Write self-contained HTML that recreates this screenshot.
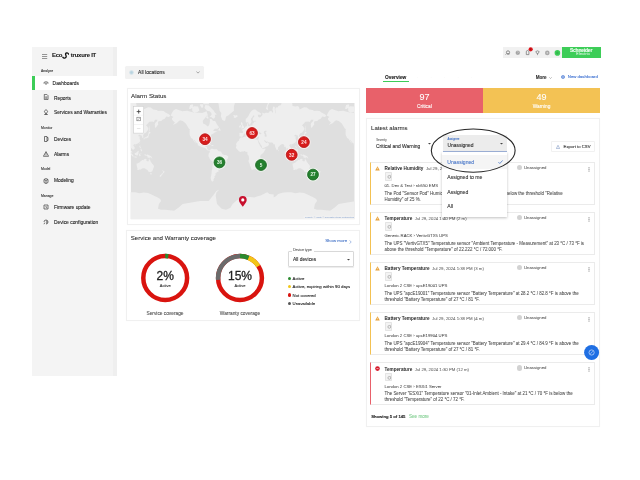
<!DOCTYPE html>
<html><head><meta charset="utf-8">
<style>
*{box-sizing:border-box;margin:0;padding:0}
html,body{width:640px;height:480px;overflow:hidden;background:#fff}
body{position:relative;font-family:"Liberation Sans",sans-serif;color:#333;will-change:transform}
.a{position:absolute}
.t{position:absolute;white-space:nowrap;line-height:1;-webkit-text-stroke:0.1px currentColor}
#sb{left:32px;top:47px;width:85px;height:329px;background:#f4f4f4}
#sbedge{left:113px;top:47px;width:4px;height:329px;background:#efefef}
.sl{font-size:3.45px;color:#3a3a3a;left:41px}
.si{font-size:4.9px;color:#1e1e1e;left:53.9px}
.ic{position:absolute;left:43px;width:6px;height:6px}
.card{position:absolute;background:#fff;border:0.6px solid #f0f0f0;box-shadow:0 0 0.8px rgba(0,0,0,0.06)}
.item{position:absolute;left:370px;width:225.3px;height:43px;border:0.6px solid #ebebeb;border-left:1.2px solid #f3c152;background:#fff}
.item.red{border-left-color:#e8606a}
.it{font-size:4.65px;font-weight:bold;color:#2a2a2a;-webkit-text-stroke:0;left:13.5px;top:4.4px}
.id{font-size:4.3px;color:#666;-webkit-text-stroke:0.05px #666}
.ib{position:absolute;left:13.6px;top:9.6px;width:7.5px;height:8.6px;background:#f3f3f3;border:0.5px solid #e4e4e4;border-radius:0.8px}
.il{font-size:4.25px;color:#444;-webkit-text-stroke:0.03px #444;left:13.5px;top:21.6px}
.ix{font-size:4.45px;color:#4a4a4a;-webkit-text-stroke:0.05px #4a4a4a;left:13.5px;top:27.8px;line-height:6.3px}
.ua{position:absolute;left:145.8px;top:2.2px;width:5.4px;height:5.4px;border-radius:50%;background:#d2d2d2}
.un{font-size:4.25px;color:#555;-webkit-text-stroke:0.04px #555;left:153px;top:3.2px}
.kb{position:absolute;left:216.8px;top:4px}
.warn{position:absolute;left:4.3px;top:3px}
.lg{font-size:4.3px;color:#222;left:292.6px;margin-top:0.6px}
.ld{position:absolute;left:287.6px;width:3.3px;height:3.3px;border-radius:50%;margin-top:0.1px}
.opt{font-size:5.1px;color:#333;left:447.3px}
</style></head><body>

<!-- sidebar -->
<div class="a" id="sb"></div>
<div class="a" id="sbedge"></div>
<svg class="a" style="left:42px;top:54px" width="6" height="5" viewBox="0 0 6 5"><rect x="0" y="0" width="5.2" height="0.9" fill="#8a8a8a"/><rect x="0" y="2" width="5.2" height="0.9" fill="#8a8a8a"/><rect x="0" y="4" width="5.2" height="0.9" fill="#8a8a8a"/></svg>
<div class="t" style="left:52px;top:52.7px;font-size:5.9px;font-weight:bold;color:#1a1a1a;letter-spacing:-0.2px">Eco<span style="display:inline-block;width:8.6px"></span>truxure IT</div>
<svg class="a" style="left:61.6px;top:52.3px" width="7.4" height="7.4" viewBox="0 0 7.4 7.4"><path d="M6.6 2.2C6.2 0.6 4 0.4 3.6 1.8C3.3 2.9 4.6 3.6 4.1 5C3.7 6.3 1.6 6.6 0.8 5.2" stroke="#111" stroke-width="1.3" fill="none" stroke-linecap="round"/></svg>
<div class="t sl" style="top:70.4px">Analyze</div>
<div class="a" style="left:32px;top:75.8px;width:85px;height:14.2px;background:#fff"></div>
<div class="a" style="left:32px;top:75.8px;width:2.5px;height:14.2px;background:#3dcd58"></div>
<svg class="ic" style="top:80px" viewBox="0 0 6 6"><path d="M0.5 3C2 1.5 4 1.5 5.5 3M1.5 3.3L3 4.2L4.5 3.3" stroke="#3a3a3a" stroke-width="0.8" fill="none"/></svg>
<div class="t si" style="left:52.6px;top:81.8px">Dashboards</div>
<svg class="ic" style="top:94.4px" viewBox="0 0 6 6"><path d="M1.3 0.4H3.8L5 1.6V5.6H1.3Z M2.2 3H4.1M2.2 4.2H4.1" stroke="#4a4a4a" stroke-width="0.75" fill="none"/></svg>
<div class="t si" style="top:96.5px">Reports</div>
<svg class="ic" style="top:109px" viewBox="0 0 6 6"><path d="M3 0.5L4.6 2.3L3 5.5L1.4 2.3Z M1.2 5.5H4.8" stroke="#4a4a4a" stroke-width="0.75" fill="none"/></svg>
<div class="t si" style="top:110.9px">Services and Warranties</div>
<div class="t sl" style="top:126.7px">Monitor</div>
<svg class="ic" style="top:136.3px" viewBox="0 0 6 6"><path d="M1.5 0.5H4V5.5H1.5Z M4 1.5H5V4.5H4" stroke="#4a4a4a" stroke-width="0.75" fill="none"/></svg>
<div class="t si" style="top:138.2px">Devices</div>
<svg class="ic" style="top:151px" viewBox="0 0 6 6"><path d="M3 0.6L5.6 5.3H0.4Z M3 2.2V3.8M3 4.3V4.8" stroke="#4a4a4a" stroke-width="0.75" fill="none"/></svg>
<div class="t si" style="top:152.9px">Alarms</div>
<div class="t sl" style="top:167.9px">Model</div>
<svg class="ic" style="top:177.5px" viewBox="0 0 6 6"><path d="M1 1.5L3 0.5L5 1.5V4.5L3 5.5L1 4.5Z M1 1.5L3 2.5L5 1.5M3 2.5V5.5" stroke="#4a4a4a" stroke-width="0.75" fill="none"/></svg>
<div class="t si" style="top:179.4px">Modeling</div>
<div class="t sl" style="top:194.8px">Manage</div>
<svg class="ic" style="top:204.4px" viewBox="0 0 6 6"><path d="M1 1H5V5H1Z M3 2V3.3L3.8 3.8" stroke="#4a4a4a" stroke-width="0.75" fill="none"/></svg>
<div class="t si" style="top:206.3px">Firmware update</div>
<svg class="ic" style="top:219.3px" viewBox="0 0 6 6"><path d="M1 3A2 2 0 1 1 3 5M1.8 3.6L1 5.2M3 1.8A1.2 1.2 0 1 1 3 4.2" stroke="#4a4a4a" stroke-width="0.75" fill="none"/></svg>
<div class="t si" style="top:221.2px">Device configuration</div>

<!-- top right header -->
<div class="a" style="left:502.5px;top:46.8px;width:60px;height:11.3px;background:#f1f1f1"></div>
<svg class="a" style="left:502.5px;top:46.8px" width="60" height="12" viewBox="0 0 60 12">
<circle cx="5" cy="5.4" r="1.6" stroke="#666" stroke-width="0.7" fill="none"/><path d="M3.6 6.6L2.6 7.6M4.2 7H6.6" stroke="#666" stroke-width="0.7"/>
<circle cx="14.8" cy="5.8" r="2.3" fill="#b9b9b9"/><circle cx="14.8" cy="5.8" r="1.6" fill="#9a9a9a"/><path d="M14.2 5.3Q14.8 4.3 15.4 5.2Q15.3 5.8 14.8 6.2V6.7" stroke="#eee" stroke-width="0.5" fill="none"/>
<path d="M23.3 7.6V4.8Q23.3 3.5 24.6 3.5Q25.9 3.5 25.9 4.8V7.6Z" stroke="#666" stroke-width="0.65" fill="none"/>
<circle cx="27.7" cy="2.3" r="2.1" fill="#e0141b"/><path d="M27.7 1.3V3.1" stroke="#5a0a0a" stroke-width="0.45"/>
<path d="M32.8 4.6Q34.5 3.1 36.2 4.6L35.1 6.6H33.9Z M34 7.6H35" stroke="#666" stroke-width="0.65" fill="none"/>
<circle cx="44.3" cy="5.9" r="2.3" fill="#a9a9a9"/><circle cx="44.3" cy="5.9" r="0.8" fill="#d5d5d5"/>
<circle cx="54.4" cy="5.9" r="2.8" fill="#3dcd58"/><circle cx="54.4" cy="5.9" r="1.3" fill="#34b54d"/>
</svg>
<div class="a" style="left:562px;top:46.5px;width:38.8px;height:11.6px;background:#3dcd58"></div>
<div class="t" style="left:569.9px;top:48.6px;font-size:4.9px;font-weight:bold;color:#f4fff6;letter-spacing:-0.15px">Schneider</div>
<div class="t" style="left:576.3px;top:53.2px;font-size:3.4px;color:#d6f3dd;letter-spacing:0.35px">Electric</div>

<!-- location selector -->
<div class="a" style="left:125.2px;top:65.6px;width:79.2px;height:13.2px;background:#f2f2f2;border-radius:1.5px"></div>
<svg class="a" style="left:128.6px;top:69.6px" width="5" height="5" viewBox="0 0 5 5"><circle cx="2.5" cy="2.5" r="2.2" fill="#cfe0e8"/><circle cx="2.5" cy="2.5" r="1.2" fill="#b8d3df"/></svg>
<div class="t" style="left:138.1px;top:70.2px;font-size:5px;color:#2a2a2a">All locations</div>
<svg class="a" style="left:196px;top:70.6px" width="4" height="3" viewBox="0 0 4 3"><path d="M0.4 0.6L2 2.1L3.6 0.6" stroke="#666" stroke-width="0.55" fill="none"/></svg>

<!-- alarm status card -->
<div class="card" style="left:126.5px;top:88px;width:233.5px;height:136.5px"></div>
<div class="t" style="left:131px;top:93.2px;font-size:6.2px;color:#262626;-webkit-text-stroke:0.06px #262626">Alarm Status</div>
<svg class="a" style="left:0;top:0" width="640" height="480" viewBox="0 0 640 480">
<defs><clipPath id="mc"><rect x="130.6" y="103" width="224.1" height="116.3"/></clipPath></defs>
<g clip-path="url(#mc)">
<rect x="130.6" y="103" width="224.1" height="116.3" fill="#dfdfdf"/>
<path d="M85.0 137.1L84.6 136.6L84.2 136.4L83.5 136.5L83.6 135.7L83.3 135.4L83.6 134.3L83.4 133.1L83.9 132.7L85.7 132.9L86.8 132.9L86.9 131.3L86.4 130.5L85.4 130.0L85.4 129.7L86.8 129.6L86.8 129.0L87.4 129.0L88.1 128.6L88.3 128.0L88.9 127.7L89.4 127.0L89.6 126.4L90.4 126.2L91.1 126.0L91.1 124.8L90.9 123.8L91.7 123.1L91.9 124.0L91.9 125.1L92.2 125.9L92.6 125.7L93.5 125.9L95.2 125.3L95.9 125.6L96.5 124.9L96.5 123.8L96.9 123.1L97.8 123.4L97.9 122.4L97.6 121.8L99.5 121.5L100.4 121.1L99.5 120.7L97.4 121.1L96.7 120.2L96.7 118.4L98.2 116.4L98.4 115.6L97.2 115.5L96.5 116.9L95.6 117.9L95.0 118.8L95.0 120.2L95.6 121.1L95.5 121.8L94.6 123.6L94.3 124.4L93.6 124.8L92.9 124.8L92.4 122.8L91.9 121.9L90.9 122.7L89.8 122.1L89.6 120.2L89.8 118.8L90.9 117.9L92.2 116.6L93.0 114.8L93.9 112.9L94.8 111.7L95.6 110.7L97.8 109.4L99.5 109.4L100.8 110.7L101.7 111.6L103.0 112.0L105.2 113.7L104.9 114.8L102.6 114.8L101.7 114.8L102.4 116.9L103.4 117.6L104.7 116.9L106.5 115.1L106.2 112.5L107.3 112.9L108.2 113.5L110.4 112.5L110.8 112.9L113.0 112.5L113.8 111.1L115.6 111.3L116.9 112.9L117.1 111.3L116.4 109.4L117.3 106.6L118.8 106.9L118.8 109.4L119.5 113.7L119.9 112.5L119.2 109.4L119.9 107.3L121.6 107.6L122.3 105.9L125.1 105.1L125.1 103.5L129.0 101.7L131.2 100.8L132.7 98.5L133.8 99.9L135.9 101.2L136.6 105.9L139.4 106.6L142.0 105.9L143.1 107.3L143.7 109.4L145.0 108.7L148.1 107.3L150.7 107.6L153.3 109.4L156.7 110.1L158.0 111.1L161.1 110.7L163.7 111.1L165.4 112.5L168.9 114.3L170.2 115.4L169.7 116.4L168.4 116.9L166.3 116.4L164.8 118.8L162.4 119.8L161.3 121.1L158.5 121.3L158.0 122.8L158.2 124.4L157.6 125.3L156.7 126.6L155.4 128.0L155.0 127.0L154.8 124.4L155.2 123.0L156.7 121.5L157.6 119.8L155.0 119.8L153.9 122.0L152.0 121.5L149.4 121.8L148.1 123.2L145.9 125.5L146.9 125.9L147.4 127.0L148.3 127.9L148.2 129.7L147.2 131.0L145.9 132.8L144.6 133.1L143.6 134.3L143.5 134.9L142.9 135.7L143.5 137.1L143.3 137.6L142.2 137.9L142.1 136.2L141.6 136.1L141.4 135.0L140.1 135.3L140.1 134.4L138.5 135.3L138.4 135.9L139.0 136.4L140.5 136.4L139.4 137.6L139.8 139.2L140.3 140.2L140.1 141.2L139.2 142.4L138.1 143.3L136.6 143.9L135.3 144.5L134.9 144.3L134.2 144.2L133.6 145.0L133.2 145.6L134.5 147.0L134.8 148.6L133.8 149.2L132.9 150.0L132.9 149.2L132.0 149.2L131.8 148.6L130.9 147.9L130.4 149.3L130.9 150.3L130.9 151.0L131.6 151.1L132.2 151.8L132.2 153.1L131.3 152.6L130.9 151.8L130.0 150.3L130.1 149.2L129.9 147.9L129.6 146.5L128.7 146.9L128.2 146.8L128.4 145.4L127.7 144.7L127.3 144.0L126.6 144.0L125.8 144.2L125.1 144.5L124.0 145.2L123.0 146.5L122.2 147.0L122.1 148.1L122.0 149.3L121.2 150.1L120.8 150.2L120.3 149.4L119.8 148.3L119.2 146.8L118.9 145.4L118.9 144.3L117.9 144.6L117.3 143.8L117.1 143.3L116.2 142.4L114.3 142.5L112.2 142.2L111.9 141.6L110.8 141.8L109.7 141.2L109.1 140.2L108.4 140.2L108.2 140.4L108.4 141.2L109.1 141.9L109.4 142.4L109.7 142.1L109.9 143.1L110.8 143.1L111.7 142.1L111.8 142.7L112.1 143.1L113.0 143.7L113.3 143.8L112.8 144.7L112.4 145.4L111.7 145.9L111.4 146.2L109.9 146.8L108.6 147.4L106.9 148.2L106.2 148.3L105.9 147.3L105.9 146.5L105.2 145.2L104.3 144.3L104.1 143.1L103.4 142.4L102.6 141.1L102.4 141.2L102.5 140.4L102.2 139.5L102.6 138.6L103.0 137.3L103.1 136.7L102.4 136.6L101.5 137.0L100.7 136.7L100.0 136.7L99.2 136.5L98.8 135.9L99.0 135.1L98.8 134.9L99.2 134.6L100.0 134.3L98.8 134.3L98.2 134.3L97.7 134.7L97.3 134.6L97.2 134.9L97.4 135.4L97.2 135.8L97.8 136.0L97.4 136.8L97.1 136.8L96.8 136.6L96.5 136.1L96.6 135.7L96.2 135.1L95.8 134.7L95.9 133.8L95.4 133.4L95.0 133.1L94.3 132.8L94.0 132.4L93.5 132.0L93.3 131.5L92.7 131.7L92.7 132.2L93.2 132.8L93.5 133.3L93.9 133.8L94.3 133.8L95.0 134.4L95.4 134.7L94.8 134.6L94.6 135.1L94.8 135.4L94.6 135.8L94.2 136.0L94.3 135.5L94.1 134.9L93.7 134.5L93.3 134.2L92.6 133.8L91.9 133.2L91.8 132.6L91.3 132.3L90.7 132.6L90.2 133.1L89.4 132.9L88.7 133.1L88.8 133.8L88.3 134.1L87.7 134.3L87.4 134.9L87.3 135.3L87.4 135.6L87.1 136.2L86.8 136.3L86.5 136.7L85.5 136.7ZM143.7 139.6L144.3 139.4L144.6 138.2L145.8 138.2L146.2 138.4L146.8 137.8L147.6 137.7L148.5 137.2L148.5 136.2L148.9 135.1L148.7 134.1L148.2 134.1L148.0 134.9L148.1 135.5L147.4 136.1L146.7 136.4L146.1 137.3L145.0 137.3L144.2 137.9L143.6 138.5ZM148.1 134.0L148.6 133.8L149.5 133.7L150.5 132.9L150.4 132.3L148.9 131.6L148.8 131.9L148.7 132.9L148.1 133.4ZM148.9 131.3L149.6 131.0L149.4 129.2L149.8 129.4L149.4 127.7L149.4 125.7L149.1 125.9L148.9 127.7L149.0 129.7ZM139.4 143.6L139.7 144.1L140.2 142.8L140.1 142.5L139.5 143.1ZM134.5 145.3L135.1 145.7L135.5 145.1L135.2 144.9ZM139.4 146.8L139.7 145.6L140.4 145.6L140.3 146.3L140.1 147.0L141.1 147.8L141.1 148.3L140.3 147.9L139.7 147.5ZM140.3 150.8L140.9 150.4L141.8 149.6L142.2 150.6L141.8 151.4L141.1 151.0ZM140.3 149.2L141.1 148.8L141.8 148.9L141.5 149.4L140.7 149.7ZM134.6 153.1L134.9 152.9L135.5 153.0L136.4 152.4L137.5 151.4L138.2 150.8L139.1 151.5L138.5 151.8L138.5 153.4L138.3 153.8L137.9 154.5L137.9 155.3L137.0 155.5L135.7 155.1L135.2 155.1L134.9 154.2ZM128.7 151.4L129.6 151.5L130.9 152.8L132.3 154.2L133.3 155.2L133.3 156.3L132.7 156.4L131.7 155.5L130.9 154.5L130.1 153.1L128.7 152.5ZM133.0 156.8L133.6 156.4L134.5 156.7L135.5 156.6L136.2 156.8L137.0 157.1L137.0 157.6L135.3 157.4L133.5 157.0ZM139.1 156.2L138.9 155.1L139.3 153.8L139.8 153.2L141.4 153.1L141.6 153.3L139.8 153.6L139.4 154.0L140.1 154.2L140.8 154.2L140.1 154.6L140.4 155.2L140.7 155.9L140.0 155.9L139.6 155.1L139.6 156.2ZM144.2 154.4L144.8 154.0L145.5 154.2L146.1 155.3L147.2 154.5L148.5 154.9L150.2 155.7L150.7 156.2L151.4 156.4L151.8 157.5L152.7 158.3L151.5 158.3L150.7 157.3L149.5 157.7L149.2 157.8L148.5 157.8L147.7 157.3L147.1 157.5L147.5 156.8L147.2 156.1L145.6 155.5L145.0 155.6L144.6 155.0L145.3 154.8L144.5 154.5ZM136.5 163.6L136.7 165.5L137.0 166.7L137.2 167.4L137.5 168.4L137.2 169.5L137.9 170.0L138.5 170.0L139.4 169.5L140.9 169.4L141.3 168.9L142.0 168.6L143.3 168.2L144.3 168.2L145.6 168.8L146.3 169.8L147.0 169.0L147.1 170.3L147.5 169.8L148.1 171.2L148.8 171.8L149.8 171.9L150.8 172.2L151.7 171.5L152.4 171.2L152.5 170.4L153.0 169.3L153.7 167.6L154.0 166.4L153.7 165.2L152.8 164.3L152.2 163.7L151.8 162.9L150.8 162.1L150.4 160.4L149.6 159.8L149.4 158.6L149.1 158.5L148.7 159.8L148.8 161.0L147.8 161.5L147.0 160.9L146.2 160.4L146.6 159.1L145.0 158.7L144.8 159.1L144.0 159.2L143.5 160.3L142.8 160.1L142.0 160.0L141.3 161.0L140.7 161.0L140.3 161.8L139.4 162.6L138.3 162.9L137.1 163.5ZM150.1 173.1L151.7 173.3L151.6 174.0L151.1 174.8L150.4 174.2ZM162.2 169.7L162.9 170.3L163.5 171.1L163.7 171.4L164.8 171.5L164.3 172.3L164.0 172.5L163.4 173.6L163.1 173.5L163.3 172.9L162.7 172.3L163.1 171.6L162.9 170.9ZM162.2 173.0L162.9 173.5L162.5 174.5L162.2 174.8L161.6 175.3L161.3 176.2L160.8 176.7L159.6 176.4L159.6 175.9L160.3 175.1L161.3 174.5L161.9 173.6ZM9.4 209.7L18.1 210.8L22.4 207.7L26.7 204.1L35.4 202.5L44.1 201.0L52.7 201.0L54.9 198.2L57.9 194.5L60.1 191.2L62.7 189.7L62.3 190.7L60.5 192.2L59.7 195.6L60.5 201.0L61.0 204.1L65.7 208.7L70.1 209.7L74.4 207.7L76.6 204.1L80.9 200.3L85.2 198.2L89.6 197.3L93.9 196.9L98.2 197.5L101.7 196.3L104.7 195.6L109.1 193.3L111.2 192.2L113.4 193.9L117.7 194.5L117.7 197.5L119.9 196.3L122.1 193.9L126.4 192.8L130.7 192.2L135.1 192.2L139.4 193.3L143.7 192.6L148.1 193.1L152.4 195.1L156.7 196.9L160.2 198.9L161.1 201.0L158.9 204.1L158.0 208.7L161.1 209.7L165.4 209.7L165.4 231.5L9.4 231.5ZM170.6 115.4L173.2 110.7L175.8 109.0L182.3 111.2L187.1 110.7L193.6 112.5L202.2 113.1L206.6 111.3L207.9 115.4L205.3 117.4L202.7 121.1L203.1 123.6L205.3 124.4L207.9 126.6L209.2 125.1L210.0 121.1L209.6 118.8L211.8 119.3L213.1 121.1L215.2 121.1L217.0 124.4L219.1 127.3L217.4 128.7L214.8 128.7L213.1 130.7L215.7 131.3L217.4 131.3L214.8 132.5L213.1 133.7L211.3 134.6L210.5 136.5L210.5 137.6L208.3 139.7L208.7 141.6L208.5 142.5L207.9 141.9L207.4 140.7L206.6 140.2L204.8 140.2L202.7 140.4L201.4 141.4L201.2 144.0L201.8 145.4L202.4 145.8L204.0 145.4L204.2 144.5L205.7 144.3L205.3 146.8L207.0 147.0L207.2 149.0L208.3 149.9L209.2 149.7L209.8 150.1L209.6 150.8L208.7 150.6L207.4 150.2L206.1 149.0L205.3 148.0L203.5 147.4L201.8 146.9L200.1 146.3L197.9 145.2L197.7 143.6L196.2 142.4L194.7 140.2L193.8 139.4L194.4 140.7L195.7 143.1L195.7 143.6L194.9 142.6L194.0 141.2L193.3 140.2L192.7 138.9L191.2 137.9L190.3 136.2L189.7 134.9L189.5 133.1L189.7 131.0L189.4 129.8L190.1 129.4L188.4 128.0L187.1 125.5L185.8 123.6L184.0 122.0L182.7 121.1L180.1 120.2L178.4 121.5L176.7 123.2L174.9 124.0L172.8 125.1L174.9 122.4L173.2 121.1L171.9 119.3L172.1 117.9L173.6 116.9L171.5 115.9ZM208.7 105.5L210.5 107.3L212.6 109.4L213.9 110.7L214.4 112.0L216.5 114.3L216.5 114.8L214.8 114.8L215.2 116.9L213.9 118.8L212.2 117.9L211.3 116.9L209.6 116.9L211.6 114.8L211.3 113.1L209.6 111.3L207.0 110.7L204.4 108.0L205.3 105.1ZM192.1 107.3L194.4 106.3L198.1 106.6L199.4 110.5L197.5 112.0L194.4 112.5L192.3 111.3ZM189.0 108.7L190.1 105.1L192.7 104.3L193.3 105.9L191.8 108.0L190.8 109.0ZM200.1 105.4L201.8 108.0L203.1 107.3L203.1 104.3L200.1 104.3ZM203.5 104.3L208.7 104.3L209.6 101.7L213.1 99.9L216.5 87.7L204.4 84.4L200.1 93.3L202.2 100.8ZM191.4 101.7L197.9 102.6L200.9 101.7L197.9 97.9L192.3 98.9ZM205.7 116.9L207.9 118.7L208.7 117.9L207.0 115.6ZM211.8 97.9L214.8 101.7L218.3 102.6L219.6 110.7L221.3 113.1L220.9 116.4L222.2 119.8L224.3 121.1L225.2 120.2L226.1 116.4L228.2 115.4L233.9 110.7L233.9 106.6L235.2 101.7L234.7 93.3L226.1 84.4L217.4 87.7ZM233.7 117.4L233.9 115.9L233.0 115.8L233.9 114.9L235.6 115.4L237.1 115.0L237.6 116.4L236.9 117.1L235.3 118.0ZM217.7 130.3L219.1 129.0L219.2 127.6L220.2 129.2L220.6 130.4L220.2 130.9L219.1 130.3ZM206.6 144.1L207.9 143.6L209.8 144.1L211.3 144.9L209.7 145.0L208.7 144.1ZM211.1 145.7L211.9 145.0L213.1 145.1L213.8 145.6L212.6 145.9ZM210.0 150.1L210.7 149.2L212.2 148.6L212.6 149.0L213.9 149.2L215.7 149.2L217.0 149.2L217.4 150.1L218.7 151.2L220.9 151.6L221.3 152.1L221.7 153.1L222.6 154.2L224.3 154.9L226.1 155.1L228.2 156.2L228.2 157.7L227.4 159.0L226.5 160.4L226.5 161.7L225.9 163.3L225.2 164.0L223.9 164.3L222.6 165.5L222.4 166.7L221.3 167.9L220.4 169.5L219.6 170.0L218.3 169.7L218.5 170.8L218.7 171.6L216.5 172.2L216.5 173.3L215.2 173.3L215.7 174.2L215.2 175.7L214.2 176.6L214.8 177.2L213.5 179.2L213.7 180.6L213.1 181.0L212.2 181.7L211.1 180.3L210.7 177.6L211.3 175.1L211.6 172.7L211.6 171.1L212.4 168.4L212.4 166.4L212.9 164.0L213.1 162.0L212.2 161.3L210.5 159.9L209.6 158.4L208.9 156.8L208.3 156.4L208.5 155.1L208.7 154.2L208.7 153.4L209.2 152.9L209.8 152.1L209.8 150.8ZM236.0 144.5L236.5 143.1L237.6 141.4L239.1 140.4L239.3 138.9L240.8 137.2L242.5 137.5L244.7 136.6L247.7 136.4L248.2 137.3L247.7 138.1L249.9 139.0L252.1 139.7L252.1 138.9L254.2 139.2L256.4 139.5L257.5 139.6L258.1 141.4L258.6 143.1L259.4 144.5L260.1 145.9L261.2 147.4L262.0 148.3L262.5 149.0L265.5 148.6L265.5 149.2L264.6 150.8L263.3 152.9L261.6 154.2L260.7 155.1L260.3 156.4L260.5 158.2L260.9 160.4L259.4 161.5L258.6 162.6L258.8 164.5L257.5 165.5L257.5 166.7L256.4 167.9L255.1 169.2L253.4 169.5L252.1 169.9L251.4 169.5L251.2 168.4L250.6 166.7L249.9 165.7L249.7 164.0L248.6 161.7L248.5 160.8L249.2 159.0L248.8 156.4L248.6 155.8L247.3 154.2L247.5 152.3L247.1 151.8L246.0 151.9L244.7 151.1L243.4 151.4L242.1 151.6L240.2 151.9L238.6 151.0L237.8 150.1L236.9 149.0L236.2 148.3L235.8 147.4L236.2 146.5L236.5 145.4ZM262.5 165.0L263.8 165.0L264.9 161.3L265.2 160.6L264.6 159.0L263.8 159.7L262.5 161.3L262.2 163.6ZM241.0 137.1L240.6 136.6L240.2 136.4L239.5 136.5L239.6 135.7L239.3 135.4L239.6 134.3L239.4 133.1L239.9 132.7L241.7 132.9L242.8 132.9L242.9 131.3L242.4 130.5L241.4 130.0L241.4 129.7L242.8 129.6L242.8 129.0L243.4 129.0L244.1 128.6L244.3 128.0L244.9 127.7L245.4 127.0L245.6 126.4L246.4 126.2L247.1 126.0L247.1 124.8L246.9 123.8L247.7 123.1L247.9 124.0L247.9 125.1L248.2 125.9L248.6 125.7L249.5 125.9L251.2 125.3L251.9 125.6L252.5 124.9L252.5 123.8L252.9 123.1L253.8 123.4L253.9 122.4L253.6 121.8L255.5 121.5L256.4 121.1L255.5 120.7L253.4 121.1L252.7 120.2L252.7 118.4L254.2 116.4L254.4 115.6L253.2 115.5L252.5 116.9L251.6 117.9L251.0 118.8L251.0 120.2L251.6 121.1L251.5 121.8L250.6 123.6L250.3 124.4L249.6 124.8L248.9 124.8L248.4 122.8L247.9 121.9L246.9 122.7L245.8 122.1L245.6 120.2L245.8 118.8L246.9 117.9L248.2 116.6L249.0 114.8L249.9 112.9L250.8 111.7L251.6 110.7L253.8 109.4L255.5 109.4L256.8 110.7L257.7 111.6L259.0 112.0L261.2 113.7L260.9 114.8L258.6 114.8L257.7 114.8L258.4 116.9L259.4 117.6L260.7 116.9L262.5 115.1L262.2 112.5L263.3 112.9L264.2 113.5L266.4 112.5L266.8 112.9L269.0 112.5L269.8 111.1L271.6 111.3L272.9 112.9L273.1 111.3L272.4 109.4L273.3 106.6L274.8 106.9L274.8 109.4L275.5 113.7L275.9 112.5L275.2 109.4L275.9 107.3L277.6 107.6L278.3 105.9L281.1 105.1L281.1 103.5L285.0 101.7L287.2 100.8L288.7 98.5L289.8 99.9L291.9 101.2L292.6 105.9L295.4 106.6L298.0 105.9L299.1 107.3L299.7 109.4L301.0 108.7L304.1 107.3L306.7 107.6L309.3 109.4L312.7 110.1L314.0 111.1L317.1 110.7L319.7 111.1L321.4 112.5L324.9 114.3L326.2 115.4L325.7 116.4L324.4 116.9L322.3 116.4L320.8 118.8L318.4 119.8L317.3 121.1L314.5 121.3L314.0 122.8L314.2 124.4L313.6 125.3L312.7 126.6L311.4 128.0L311.0 127.0L310.8 124.4L311.2 123.0L312.7 121.5L313.6 119.8L311.0 119.8L309.9 122.0L308.0 121.5L305.4 121.8L304.1 123.2L301.9 125.5L302.9 125.9L303.4 127.0L304.3 127.9L304.2 129.7L303.2 131.0L301.9 132.8L300.6 133.1L299.6 134.3L299.5 134.9L298.9 135.7L299.5 137.1L299.3 137.6L298.2 137.9L298.1 136.2L297.6 136.1L297.4 135.0L296.1 135.3L296.1 134.4L294.5 135.3L294.4 135.9L295.0 136.4L296.5 136.4L295.4 137.6L295.8 139.2L296.3 140.2L296.1 141.2L295.2 142.4L294.1 143.3L292.6 143.9L291.3 144.5L290.9 144.3L290.2 144.2L289.6 145.0L289.2 145.6L290.5 147.0L290.8 148.6L289.8 149.2L288.9 150.0L288.9 149.2L288.0 149.2L287.8 148.6L286.9 147.9L286.4 149.3L286.9 150.3L286.9 151.0L287.6 151.1L288.2 151.8L288.2 153.1L287.3 152.6L286.9 151.8L286.0 150.3L286.1 149.2L285.9 147.9L285.6 146.5L284.7 146.9L284.2 146.8L284.4 145.4L283.7 144.7L283.3 144.0L282.6 144.0L281.8 144.2L281.1 144.5L280.0 145.2L279.0 146.5L278.2 147.0L278.1 148.1L278.0 149.3L277.2 150.1L276.8 150.2L276.3 149.4L275.8 148.3L275.2 146.8L274.9 145.4L274.9 144.3L273.9 144.6L273.3 143.8L273.1 143.3L272.2 142.4L270.3 142.5L268.2 142.2L267.9 141.6L266.8 141.8L265.7 141.2L265.1 140.2L264.4 140.2L264.2 140.4L264.4 141.2L265.1 141.9L265.4 142.4L265.7 142.1L265.9 143.1L266.8 143.1L267.7 142.1L267.8 142.7L268.1 143.1L269.0 143.7L269.3 143.8L268.8 144.7L268.4 145.4L267.7 145.9L267.4 146.2L265.9 146.8L264.6 147.4L262.9 148.2L262.2 148.3L261.9 147.3L261.9 146.5L261.2 145.2L260.3 144.3L260.1 143.1L259.4 142.4L258.6 141.1L258.4 141.2L258.5 140.4L258.2 139.5L258.6 138.6L259.0 137.3L259.1 136.7L258.4 136.6L257.5 137.0L256.7 136.7L256.0 136.7L255.2 136.5L254.8 135.9L255.0 135.1L254.8 134.9L255.2 134.6L256.0 134.3L254.8 134.3L254.2 134.3L253.7 134.7L253.3 134.6L253.2 134.9L253.4 135.4L253.2 135.8L253.8 136.0L253.4 136.8L253.1 136.8L252.8 136.6L252.5 136.1L252.6 135.7L252.2 135.1L251.8 134.7L251.9 133.8L251.4 133.4L251.0 133.1L250.3 132.8L250.0 132.4L249.5 132.0L249.3 131.5L248.7 131.7L248.7 132.2L249.2 132.8L249.5 133.3L249.9 133.8L250.3 133.8L251.0 134.4L251.4 134.7L250.8 134.6L250.6 135.1L250.8 135.4L250.6 135.8L250.2 136.0L250.3 135.5L250.1 134.9L249.7 134.5L249.3 134.2L248.6 133.8L247.9 133.2L247.8 132.6L247.3 132.3L246.7 132.6L246.2 133.1L245.4 132.9L244.7 133.1L244.8 133.8L244.3 134.1L243.7 134.3L243.4 134.9L243.3 135.3L243.4 135.6L243.1 136.2L242.8 136.3L242.5 136.7L241.5 136.7ZM240.9 128.7L244.0 127.9L244.1 126.8L243.5 126.3L243.2 125.5L242.7 124.7L242.5 124.3L242.6 123.2L241.9 122.3L241.2 122.3L240.9 123.0L241.0 124.1L241.3 125.1L242.1 125.5L242.0 126.3L241.4 126.4L241.6 127.1L241.1 127.5L242.0 127.7ZM240.8 127.2L240.8 126.0L241.0 125.5L240.2 124.9L239.7 125.7L239.1 126.0L239.3 126.9L239.1 127.6L239.8 127.5ZM265.9 108.7L267.2 109.8L268.3 109.8L267.7 108.0L267.7 105.9L269.4 102.6L272.9 100.3L270.7 100.8L268.1 102.6L266.8 105.9ZM299.7 139.6L300.3 139.4L300.6 138.2L301.8 138.2L302.2 138.4L302.8 137.8L303.6 137.7L304.5 137.2L304.5 136.2L304.9 135.1L304.7 134.1L304.2 134.1L304.0 134.9L304.1 135.5L303.4 136.1L302.7 136.4L302.1 137.3L301.0 137.3L300.2 137.9L299.6 138.5ZM304.1 134.0L304.6 133.8L305.5 133.7L306.5 132.9L306.4 132.3L304.9 131.6L304.8 131.9L304.7 132.9L304.1 133.4ZM304.9 131.3L305.6 131.0L305.4 129.2L305.8 129.4L305.4 127.7L305.4 125.7L305.1 125.9L304.9 127.7L305.0 129.7ZM295.4 143.6L295.7 144.1L296.2 142.8L296.1 142.5L295.5 143.1ZM290.5 145.3L291.1 145.7L291.5 145.1L291.2 144.9ZM278.0 150.3L278.2 151.2L278.8 150.6L278.5 150.0L278.1 149.5ZM295.4 146.8L295.7 145.6L296.4 145.6L296.3 146.3L296.1 147.0L297.1 147.8L297.1 148.3L296.3 147.9L295.7 147.5ZM296.3 150.8L296.9 150.4L297.8 149.6L298.2 150.6L297.8 151.4L297.1 151.0ZM296.3 149.2L297.1 148.8L297.8 148.9L297.5 149.4L296.7 149.7ZM290.6 153.1L290.9 152.9L291.5 153.0L292.4 152.4L293.5 151.4L294.2 150.8L295.1 151.5L294.5 151.8L294.5 153.4L294.3 153.8L293.9 154.5L293.9 155.3L293.0 155.5L291.7 155.1L291.2 155.1L290.9 154.2ZM284.7 151.4L285.6 151.5L286.9 152.8L288.3 154.2L289.3 155.2L289.3 156.3L288.7 156.4L287.7 155.5L286.9 154.5L286.1 153.1L284.7 152.5ZM289.0 156.8L289.6 156.4L290.5 156.7L291.5 156.6L292.2 156.8L293.0 157.1L293.0 157.6L291.3 157.4L289.5 157.0ZM295.1 156.2L294.9 155.1L295.3 153.8L295.8 153.2L297.4 153.1L297.6 153.3L295.8 153.6L295.4 154.0L296.1 154.2L296.8 154.2L296.1 154.6L296.4 155.2L296.7 155.9L296.0 155.9L295.6 155.1L295.6 156.2ZM300.2 154.4L300.8 154.0L301.5 154.2L302.1 155.3L303.2 154.5L304.5 154.9L306.2 155.7L306.7 156.2L307.4 156.4L307.8 157.5L308.7 158.3L307.5 158.3L306.7 157.3L305.5 157.7L305.2 157.8L304.5 157.8L303.7 157.3L303.1 157.5L303.5 156.8L303.2 156.1L301.6 155.5L301.0 155.6L300.6 155.0L301.3 154.8L300.5 154.5ZM292.5 163.6L292.7 165.5L293.0 166.7L293.2 167.4L293.5 168.4L293.2 169.5L293.9 170.0L294.5 170.0L295.4 169.5L296.9 169.4L297.3 168.9L298.0 168.6L299.3 168.2L300.3 168.2L301.6 168.8L302.3 169.8L303.0 169.0L303.1 170.3L303.5 169.8L304.1 171.2L304.8 171.8L305.8 171.9L306.8 172.2L307.7 171.5L308.4 171.2L308.5 170.4L309.0 169.3L309.7 167.6L310.0 166.4L309.7 165.2L308.8 164.3L308.2 163.7L307.8 162.9L306.8 162.1L306.4 160.4L305.6 159.8L305.4 158.6L305.1 158.5L304.7 159.8L304.8 161.0L303.8 161.5L303.0 160.9L302.2 160.4L302.6 159.1L301.0 158.7L300.8 159.1L300.0 159.2L299.5 160.3L298.8 160.1L298.0 160.0L297.3 161.0L296.7 161.0L296.3 161.8L295.4 162.6L294.3 162.9L293.1 163.5ZM306.1 173.1L307.7 173.3L307.6 174.0L307.1 174.8L306.4 174.2ZM318.2 169.7L318.9 170.3L319.5 171.1L319.7 171.4L320.8 171.5L320.3 172.3L320.0 172.5L319.4 173.6L319.1 173.5L319.3 172.9L318.7 172.3L319.1 171.6L318.9 170.9ZM318.2 173.0L318.9 173.5L318.5 174.5L318.2 174.8L317.6 175.3L317.3 176.2L316.8 176.7L315.6 176.4L315.6 175.9L316.3 175.1L317.3 174.5L317.9 173.6ZM165.4 209.7L174.1 210.8L178.4 207.7L182.7 204.1L191.4 202.5L200.1 201.0L208.7 201.0L210.9 198.2L213.9 194.5L216.1 191.2L218.7 189.7L218.3 190.7L216.5 192.2L215.7 195.6L216.5 201.0L217.0 204.1L221.7 208.7L226.1 209.7L230.4 207.7L232.6 204.1L236.9 200.3L241.2 198.2L245.6 197.3L249.9 196.9L254.2 197.5L257.7 196.3L260.7 195.6L265.1 193.3L267.2 192.2L269.4 193.9L273.7 194.5L273.7 197.5L275.9 196.3L278.1 193.9L282.4 192.8L286.7 192.2L291.1 192.2L295.4 193.3L299.7 192.6L304.1 193.1L308.4 195.1L312.7 196.9L316.2 198.9L317.1 201.0L314.9 204.1L314.0 208.7L317.1 209.7L321.4 209.7L321.4 231.5L165.4 231.5ZM248.8 136.1L250.2 135.8L249.9 136.7ZM247.0 135.4L247.6 135.4L247.6 134.3L247.0 134.3ZM326.6 115.4L329.2 110.7L331.8 109.0L338.3 111.2L343.1 110.7L349.6 112.5L358.2 113.1L362.6 111.3L363.9 115.4L361.3 117.4L358.7 121.1L359.1 123.6L361.3 124.4L363.9 126.6L365.2 125.1L366.0 121.1L365.6 118.8L367.8 119.3L369.1 121.1L371.2 121.1L373.0 124.4L375.1 127.3L373.4 128.7L370.8 128.7L369.1 130.7L371.7 131.3L373.4 131.3L370.8 132.5L369.1 133.7L367.3 134.6L366.5 136.5L366.5 137.6L364.3 139.7L364.7 141.6L364.5 142.5L363.9 141.9L363.4 140.7L362.6 140.2L360.8 140.2L358.7 140.4L357.4 141.4L357.1 144.0L357.8 145.4L358.4 145.8L360.0 145.4L360.2 144.5L361.7 144.3L361.3 146.8L363.0 147.0L363.2 149.0L364.3 149.9L365.2 149.7L365.8 150.1L365.6 150.8L364.7 150.6L363.4 150.2L362.1 149.0L361.3 148.0L359.5 147.4L357.8 146.9L356.1 146.3L353.9 145.2L353.7 143.6L352.2 142.4L350.6 140.2L349.8 139.4L350.4 140.7L351.7 143.1L351.7 143.6L350.9 142.6L350.0 141.2L349.4 140.2L348.7 138.9L347.2 137.9L346.3 136.2L345.7 134.9L345.5 133.1L345.7 131.0L345.4 129.8L346.1 129.4L344.4 128.0L343.1 125.5L341.8 123.6L340.0 122.0L338.7 121.1L336.1 120.2L334.4 121.5L332.7 123.2L330.9 124.0L328.8 125.1L330.9 122.4L329.2 121.1L327.9 119.3L328.1 117.9L329.6 116.9L327.5 115.9ZM348.1 107.3L350.4 106.3L354.1 106.6L355.4 110.5L353.5 112.0L350.4 112.5L348.3 111.3ZM345.0 108.7L346.1 105.1L348.7 104.3L349.4 105.9L347.8 108.0L346.8 109.0ZM356.1 105.4L357.8 108.0L359.1 107.3L359.1 104.3L356.1 104.3ZM359.5 104.3L364.7 104.3L365.6 101.7L369.1 99.9L372.5 87.7L360.4 84.4L356.1 93.3L358.2 100.8ZM347.4 101.7L353.9 102.6L356.9 101.7L353.9 97.9L348.3 98.9ZM321.4 209.7L330.1 210.8L334.4 207.7L338.7 204.1L347.4 202.5L356.1 201.0L364.7 201.0L366.9 198.2L369.9 194.5L372.1 191.2L374.7 189.7L374.3 190.7L372.5 192.2L371.7 195.6L372.5 201.0L373.0 204.1L377.7 208.7L382.1 209.7L386.4 207.7L388.6 204.1L392.9 200.3L397.2 198.2L401.6 197.3L405.9 196.9L410.2 197.5L413.7 196.3L416.7 195.6L421.1 193.3L423.2 192.2L425.4 193.9L429.7 194.5L429.7 197.5L431.9 196.3L434.1 193.9L438.4 192.8L442.7 192.2L447.1 192.2L451.4 193.3L455.7 192.6L460.1 193.1L464.4 195.1L468.7 196.9L472.2 198.9L473.1 201.0L470.9 204.1L470.0 208.7L473.1 209.7L477.4 209.7L477.4 231.5L321.4 231.5Z" fill="#eeeeee"/>
<path d="M255.5 134.2L256.0 134.2L257.0 134.2L257.9 133.7L258.7 133.7L260.0 134.3L261.4 134.0L261.4 133.4L260.7 132.9L259.9 132.2L259.2 131.8L258.6 131.9L257.9 132.2L257.5 131.7L258.0 131.3L257.1 130.9L256.7 131.0L256.2 131.7L255.8 132.3L255.5 133.1ZM263.8 133.1L264.0 131.5L264.6 131.0L265.5 130.7L266.4 130.8L266.5 131.7L265.5 132.2L265.6 133.1L266.3 133.7L266.4 134.9L266.8 136.2L266.7 136.6L265.5 136.7L264.6 136.2L264.6 135.6L264.9 134.9L264.4 133.8Z" fill="#dfdfdf"/>
</g>
<!-- zoom control -->
<rect x="133.7" y="106.5" width="10" height="26.6" fill="#fff" stroke="#c8c8c8" stroke-width="0.5"/>
<path d="M138.7 109.6V113.6M136.7 111.6H140.7" stroke="#333" stroke-width="0.8"/>
<rect x="136.9" y="117.2" width="3.6" height="3.6" fill="none" stroke="#555" stroke-width="0.5"/>
<path d="M137.6 120.1L139.8 117.9" stroke="#555" stroke-width="0.4"/>
<path d="M136.9 128.5H140.5" stroke="#ccc" stroke-width="0.5"/>
<path d="M134 124.5H143.4M134 115.2H143.4" stroke="#e4e4e4" stroke-width="0.4"/>
<!-- markers -->
<g font-family="Liberation Sans" font-size="4.7" font-weight="bold" fill="#fde3e3" text-anchor="middle">
<circle cx="205" cy="139.2" r="6.8" fill="#fdf1f1" opacity="0.9"/><circle cx="205" cy="139.2" r="5.45" fill="#d81c1c" stroke="#b01313" stroke-width="0.8"/><text x="205" y="140.95">34</text>
<circle cx="252" cy="133" r="6.8" fill="#fdf1f1" opacity="0.9"/><circle cx="252" cy="133" r="5.45" fill="#d81c1c" stroke="#b01313" stroke-width="0.8"/><text x="252" y="134.75">63</text>
<circle cx="303.9" cy="142.1" r="6.8" fill="#fdf1f1" opacity="0.9"/><circle cx="303.9" cy="142.1" r="5.45" fill="#d81c1c" stroke="#b01313" stroke-width="0.8"/><text x="303.9" y="143.85">24</text>
<circle cx="291.7" cy="154.8" r="6.8" fill="#fdf1f1" opacity="0.9"/><circle cx="291.7" cy="154.8" r="5.45" fill="#d81c1c" stroke="#b01313" stroke-width="0.8"/><text x="291.7" y="156.55">32</text>
<circle cx="219.5" cy="162.4" r="6.8" fill="#eef8ee" opacity="0.9"/><circle cx="219.5" cy="162.4" r="5.45" fill="#24802e" stroke="#1a6322" stroke-width="0.8"/><text x="219.5" y="164.15" fill="#e6f6e6">36</text>
<circle cx="261" cy="165" r="6.8" fill="#eef8ee" opacity="0.9"/><circle cx="261" cy="165" r="5.45" fill="#24802e" stroke="#1a6322" stroke-width="0.8"/><text x="261" y="166.75" fill="#e6f6e6">5</text>
<circle cx="313" cy="174.6" r="6.8" fill="#eef8ee" opacity="0.9"/><circle cx="313" cy="174.6" r="5.45" fill="#24802e" stroke="#1a6322" stroke-width="0.8"/><text x="313" y="176.35" fill="#e6f6e6">27</text>
</g>
<path d="M242.8 206.8C240.6 203.4 238.9 201.8 238.9 199.9A3.9 3.9 0 0 1 246.7 199.9C246.7 201.8 245 203.4 242.8 206.8Z" fill="#c8102e"/>
<circle cx="242.8" cy="199.9" r="1.6" fill="#fff"/>
<rect x="303.5" y="215.6" width="51.2" height="3.4" fill="#f4f4f4" opacity="0.6"/><text x="305" y="218.1" font-family="Liberation Sans" font-size="2.2" fill="#7d9ccc" textLength="49" lengthAdjust="spacingAndGlyphs">Leaflet | © Carto © OpenStreetMap contributors</text>
</svg>

<!-- service & warranty -->
<div class="card" style="left:126.4px;top:230px;width:234px;height:91px"></div>
<div class="t" style="left:130.8px;top:234.9px;font-size:6.1px;color:#262626;-webkit-text-stroke:0.06px #262626">Service and Warranty coverage</div>
<div class="t" style="left:325.2px;top:239.1px;font-size:4.35px;color:#4a78c9">Show more</div>
<svg class="a" style="left:348.5px;top:239.5px" width="3" height="4" viewBox="0 0 3 4"><path d="M0.7 0.4L2.2 2L0.7 3.6" stroke="#4a78c9" stroke-width="0.5" fill="none"/></svg>
<svg class="a" style="left:0;top:0" width="640" height="480" viewBox="0 0 640 480">
<g fill="none" stroke-width="4.5">
<circle cx="165.2" cy="278" r="21.9" stroke="#d9140f"/>
<circle cx="165.2" cy="278" r="21.9" stroke="#2a8a2f" stroke-dasharray="3.2 200" transform="rotate(-90 165.2 278)"/>
<circle cx="240" cy="278" r="21.9" stroke="#d9140f"/>
<circle cx="240" cy="278" r="21.9" stroke="#6b6b6b" stroke-dasharray="36.5 200" transform="rotate(175 240 278)"/>
<circle cx="240" cy="278" r="21.9" stroke="#2a8a2f" stroke-dasharray="8.9 200" transform="rotate(-90 240 278)"/>
<circle cx="240" cy="278" r="21.9" stroke="#f2c618" stroke-dasharray="13 200" transform="rotate(-67 240 278)"/>
</g>
</svg>
<div class="t" style="left:145.2px;top:270.4px;width:40px;text-align:center;font-size:12px;color:#222;-webkit-text-stroke:0.3px #222">2%</div>
<div class="t" style="left:145.2px;top:284.2px;width:40px;text-align:center;font-size:4px;color:#333">Active</div>
<div class="t" style="left:220px;top:270.4px;width:40px;text-align:center;font-size:12px;color:#222;-webkit-text-stroke:0.3px #222">15%</div>
<div class="t" style="left:220px;top:284.2px;width:40px;text-align:center;font-size:4px;color:#333">Active</div>
<div class="t" style="left:140px;top:311.7px;width:50px;text-align:center;font-size:4.8px;color:#555">Service coverage</div>
<div class="t" style="left:215px;top:311.7px;width:50px;text-align:center;font-size:4.8px;color:#555">Warranty coverage</div>
<div class="a" style="left:287.7px;top:251.2px;width:66.8px;height:16.2px;border:0.6px solid #d8d8d8;border-radius:1px;box-shadow:0 0.4px 0.8px rgba(0,0,0,0.08)"></div>
<div class="a" style="left:291.5px;top:250.3px;width:22.5px;height:2px;background:#fff"></div>
<div class="t" style="left:292.9px;top:249.4px;font-size:3.6px;color:#666">Device type</div>
<div class="t" style="left:292.9px;top:258.1px;font-size:4.9px;color:#2a2a2a">All devices</div>
<svg class="a" style="left:347.3px;top:258.6px" width="3" height="2" viewBox="0 0 3 2"><path d="M0 0H3L1.5 1.6Z" fill="#444"/></svg>
<div class="ld" style="top:276.5px;background:#2a8a2f"></div><div class="t lg" style="top:276.2px">Active</div>
<div class="ld" style="top:285px;background:#f2c618"></div><div class="t lg" style="top:284.7px">Active, expiring within 90 days</div>
<div class="ld" style="top:293.3px;background:#d9140f"></div><div class="t lg" style="top:293px">Not covered</div>
<div class="ld" style="top:302px;background:#555"></div><div class="t lg" style="top:301.7px">Unavailable</div>

<!-- tabs -->
<div class="t" style="left:385px;top:75.7px;font-size:4.8px;font-weight:bold;color:#222">Overview</div>
<div class="a" style="left:382.5px;top:81px;width:26.5px;height:1px;background:#3dcd58"></div>
<div class="t" style="left:417px;top:75.4px;font-size:4.5px;color:#f7f7f7;letter-spacing:1px">. &nbsp; &nbsp; . &nbsp; &nbsp; . &nbsp; &nbsp; . &nbsp; &nbsp; .</div>
<div class="t" style="left:535.7px;top:76.2px;font-size:4.6px;font-weight:bold;color:#333">More</div>
<svg class="a" style="left:548.6px;top:76.6px" width="3" height="2" viewBox="0 0 3 2"><path d="M0.3 0.3L1.5 1.5L2.7 0.3" stroke="#666" stroke-width="0.45" fill="none"/></svg>
<svg class="a" style="left:561.2px;top:74.7px" width="4" height="4" viewBox="0 0 4 4"><circle cx="2" cy="2" r="1.8" fill="#3b6fd1"/><path d="M2 1V3M1 2H3" stroke="#fff" stroke-width="0.5"/></svg>
<div class="t" style="left:567.8px;top:74.9px;font-size:4.3px;color:#3b6fd1">New dashboard</div>

<!-- stat cards -->
<div class="a" style="left:366px;top:88px;width:117px;height:25.1px;background:#e8616a"></div>
<div class="a" style="left:483px;top:88px;width:117.2px;height:25.1px;background:#f3c254"></div>
<div class="t" style="left:404.4px;top:93.2px;width:40px;text-align:center;font-size:9px;color:#fff">97</div>
<div class="t" style="left:404.4px;top:104.7px;width:40px;text-align:center;font-size:4.8px;color:#fff">Critical</div>
<div class="t" style="left:521.5px;top:93.2px;width:40px;text-align:center;font-size:9px;color:#fff">49</div>
<div class="t" style="left:521.5px;top:104.7px;width:40px;text-align:center;font-size:4.8px;color:#fff">Warning</div>

<!-- latest alarms card -->
<div class="card" style="left:366.3px;top:117.7px;width:234.1px;height:309.7px"></div>
<div class="t" style="left:371px;top:124.9px;font-size:6.1px;color:#262626;-webkit-text-stroke:0.06px #262626">Latest alarms</div>
<div class="t" style="left:376.2px;top:138.6px;font-size:2.9px;color:#777">Severity</div>
<div class="t" style="left:376px;top:145px;font-size:4.95px;color:#2a2a2a">Critical and Warning</div>
<svg class="a" style="left:427.8px;top:143px" width="3" height="2" viewBox="0 0 3 2"><path d="M0 0H3L1.5 1.6Z" fill="#444"/></svg>
<div class="a" style="left:442.5px;top:134.7px;width:64.8px;height:17.2px;background:#ececec"></div>
<div class="a" style="left:442.5px;top:150.6px;width:64.8px;height:1.3px;background:#9fb3da"></div>
<div class="t" style="left:447.5px;top:138.3px;font-size:2.9px;color:#4a78c9">Assignee</div>
<div class="t" style="left:447.5px;top:144.4px;font-size:4.95px;color:#2a2a2a">Unassigned</div>
<svg class="a" style="left:499.5px;top:143.2px" width="3" height="2" viewBox="0 0 3 2"><path d="M0 0H3L1.5 1.6Z" fill="#444"/></svg>
<div class="a" style="left:551.1px;top:141.4px;width:44.2px;height:10.9px;border:0.6px solid #f1f1f1;border-radius:1px;box-shadow:0 0 0.6px rgba(0,0,0,0.08)"></div>
<svg class="a" style="left:556.2px;top:144.5px" width="4" height="4" viewBox="0 0 4 4"><path d="M2 0.3L3.7 3.6H0.3Z" fill="none" stroke="#6b86b8" stroke-width="0.5"/></svg>
<div class="t" style="left:563.6px;top:144.8px;font-size:4.26px;color:#333">Export to CSV</div>

<!-- alarm items -->
<div class="item" style="top:161.8px">
 <svg class="warn" width="5" height="5" viewBox="0 0 5 5"><path d="M2.5 0.3L4.8 4.5H0.2Z" fill="#e8a13a"/><path d="M2.5 1.7V3.1M2.5 3.5V3.9" stroke="#fff" stroke-width="0.45"/></svg>
 <div class="t it">Relative Humidity <span class="id" style="font-weight:normal">&nbsp;Jul 29, 2024 1:42 PM (1 m)</span></div>
 <div class="ib"><svg width="7" height="8" viewBox="0 0 7 8" style="position:absolute;left:0;top:0"><circle cx="3.3" cy="3.9" r="1.4" fill="none" stroke="#8a8a8a" stroke-width="0.55"/><path d="M4.3 2.6L5 1.9" stroke="#8a8a8a" stroke-width="0.5"/></svg></div>
 <div class="t il">01. Dev &amp; Test › nb550 EMS</div>
 <div class="t ix">The Pod "Sensor Pod" Humidity sensor "Humidity" at 21 % is below the threshold "Relative<br>Humidity" of 25 %.</div>
 <div class="ua"></div><div class="t un">Unassigned</div><svg class="kb" width="2" height="5" viewBox="0 0 2 5"><circle cx="1" cy="0.7" r="0.5" fill="#555"/><circle cx="1" cy="2.3" r="0.5" fill="#555"/><circle cx="1" cy="3.9" r="0.5" fill="#555"/></svg>
</div>
<div class="item" style="top:211.8px">
 <svg class="warn" width="5" height="5" viewBox="0 0 5 5"><path d="M2.5 0.3L4.8 4.5H0.2Z" fill="#e8a13a"/><path d="M2.5 1.7V3.1M2.5 3.5V3.9" stroke="#fff" stroke-width="0.45"/></svg>
 <div class="t it">Temperature <span class="id" style="font-weight:normal">&nbsp;Jul 29, 2024 1:40 PM (2 m)</span></div>
 <div class="ib"><svg width="7" height="8" viewBox="0 0 7 8" style="position:absolute;left:0;top:0"><circle cx="3.3" cy="3.9" r="1.4" fill="none" stroke="#8a8a8a" stroke-width="0.55"/><path d="M4.3 2.6L5 1.9" stroke="#8a8a8a" stroke-width="0.5"/></svg></div>
 <div class="t il">Generic RACK › VertivGTX5 UPS</div>
 <div class="t ix">The UPS "VertivGTX5" Temperature sensor "Ambient Temperature - Measurement" at 23 °C / 73 °F is<br>above the threshold "Temperature" of 22.222 °C / 72.000 °F.</div>
 <div class="ua"></div><div class="t un">Unassigned</div><svg class="kb" width="2" height="5" viewBox="0 0 2 5"><circle cx="1" cy="0.7" r="0.5" fill="#555"/><circle cx="1" cy="2.3" r="0.5" fill="#555"/><circle cx="1" cy="3.9" r="0.5" fill="#555"/></svg>
</div>
<div class="item" style="top:261.8px">
 <svg class="warn" width="5" height="5" viewBox="0 0 5 5"><path d="M2.5 0.3L4.8 4.5H0.2Z" fill="#e8a13a"/><path d="M2.5 1.7V3.1M2.5 3.5V3.9" stroke="#fff" stroke-width="0.45"/></svg>
 <div class="t it">Battery Temperature <span class="id" style="font-weight:normal">&nbsp;Jul 29, 2024 1:38 PM (3 m)</span></div>
 <div class="ib"><svg width="7" height="8" viewBox="0 0 7 8" style="position:absolute;left:0;top:0"><circle cx="3.3" cy="3.9" r="1.4" fill="none" stroke="#8a8a8a" stroke-width="0.55"/><path d="M4.3 2.6L5 1.9" stroke="#8a8a8a" stroke-width="0.5"/></svg></div>
 <div class="t il">London 2 CSE › apcE19001 UPS</div>
 <div class="t ix">The UPS "apcE19001" Temperature sensor "Battery Temperature" at 28.2 °C / 82.8 °F is above the<br>threshold "Battery Temperature" of 27 °C / 81 °F.</div>
 <div class="ua"></div><div class="t un">Unassigned</div><svg class="kb" width="2" height="5" viewBox="0 0 2 5"><circle cx="1" cy="0.7" r="0.5" fill="#555"/><circle cx="1" cy="2.3" r="0.5" fill="#555"/><circle cx="1" cy="3.9" r="0.5" fill="#555"/></svg>
</div>
<div class="item" style="top:311.9px">
 <svg class="warn" width="5" height="5" viewBox="0 0 5 5"><path d="M2.5 0.3L4.8 4.5H0.2Z" fill="#e8a13a"/><path d="M2.5 1.7V3.1M2.5 3.5V3.9" stroke="#fff" stroke-width="0.45"/></svg>
 <div class="t it">Battery Temperature <span class="id" style="font-weight:normal">&nbsp;Jul 29, 2024 1:38 PM (4 m)</span></div>
 <div class="ib"><svg width="7" height="8" viewBox="0 0 7 8" style="position:absolute;left:0;top:0"><circle cx="3.3" cy="3.9" r="1.4" fill="none" stroke="#8a8a8a" stroke-width="0.55"/><path d="M4.3 2.6L5 1.9" stroke="#8a8a8a" stroke-width="0.5"/></svg></div>
 <div class="t il">London 2 CSE › apcE19904 UPS</div>
 <div class="t ix">The UPS "apcE19904" Temperature sensor "Battery Temperature" at 29.4 °C / 84.9 °F is above the<br>threshold "Battery Temperature" of 27 °C / 81 °F.</div>
 <div class="ua"></div><div class="t un">Unassigned</div><svg class="kb" width="2" height="5" viewBox="0 0 2 5"><circle cx="1" cy="0.7" r="0.5" fill="#555"/><circle cx="1" cy="2.3" r="0.5" fill="#555"/><circle cx="1" cy="3.9" r="0.5" fill="#555"/></svg>
</div>
<div class="item red" style="top:362.2px">
 <svg class="warn" width="5" height="5" viewBox="0 0 5 5"><circle cx="2.5" cy="2.6" r="2.3" fill="#d4182a"/><path d="M1.4 2.6H3.6" stroke="#fff" stroke-width="0.6"/></svg>
 <div class="t it">Temperature <span class="id" style="font-weight:normal">&nbsp;Jul 29, 2024 1:30 PM (12 m)</span></div>
 <div class="ib"><svg width="7" height="8" viewBox="0 0 7 8" style="position:absolute;left:0;top:0"><circle cx="3.3" cy="3.9" r="1.4" fill="none" stroke="#8a8a8a" stroke-width="0.55"/><path d="M4.3 2.6L5 1.9" stroke="#8a8a8a" stroke-width="0.5"/></svg></div>
 <div class="t il">London 2 CSE › ESXi1 Server</div>
 <div class="t ix">The Server "ESXi1" Temperature sensor "01-Inlet Ambient - Intake" at 21 °C / 70 °F is below the<br>threshold "Temperature" of 22 °C / 72 °F.</div>
 <div class="ua"></div><div class="t un">Unassigned</div><svg class="kb" width="2" height="5" viewBox="0 0 2 5"><circle cx="1" cy="0.7" r="0.5" fill="#555"/><circle cx="1" cy="2.3" r="0.5" fill="#555"/><circle cx="1" cy="3.9" r="0.5" fill="#555"/></svg>
</div>
<div class="t" style="left:371.2px;top:414.8px;font-size:4.2px;font-weight:bold;color:#222">Showing 5 of 145</div>
<div class="t" style="left:409px;top:414.6px;font-size:4.6px;color:#86d095">See more</div>

<!-- FAB -->
<svg class="a" style="left:584px;top:345px" width="16" height="16" viewBox="0 0 16 16"><circle cx="7.6" cy="7.5" r="7.5" fill="#1f6fe3"/><circle cx="7.6" cy="7.5" r="2.6" fill="none" stroke="#cfe0fb" stroke-width="0.7"/><path d="M6.4 8.8L8.9 6.2" stroke="#cfe0fb" stroke-width="0.6"/></svg>

<!-- dropdown menu -->
<div class="a" style="left:441.9px;top:152px;width:65.6px;height:64.6px;background:#fff;box-shadow:0 1px 2.5px rgba(0,0,0,0.25)"></div>
<div class="a" style="left:441.9px;top:155px;width:65.6px;height:14px;background:#f5f5f5"></div>
<div class="t opt" style="top:160px;color:#4a78c9">Unassigned</div>
<svg class="a" style="left:497.5px;top:159.8px" width="5" height="4" viewBox="0 0 5 4"><path d="M0.4 2.1L1.8 3.5L4.7 0.4" stroke="#4a78c9" stroke-width="0.8" fill="none"/></svg>
<div class="t opt" style="top:175.4px">Assigned to me</div>
<div class="t opt" style="top:189.8px">Assigned</div>
<div class="t opt" style="top:204.1px">All</div>

<!-- ellipse annotation -->
<svg class="a" style="left:0;top:0" width="640" height="480" viewBox="0 0 640 480"><ellipse cx="473.2" cy="150.6" rx="41.9" ry="21.6" fill="none" stroke="#262626" stroke-width="1.1"/></svg>

</body></html>
